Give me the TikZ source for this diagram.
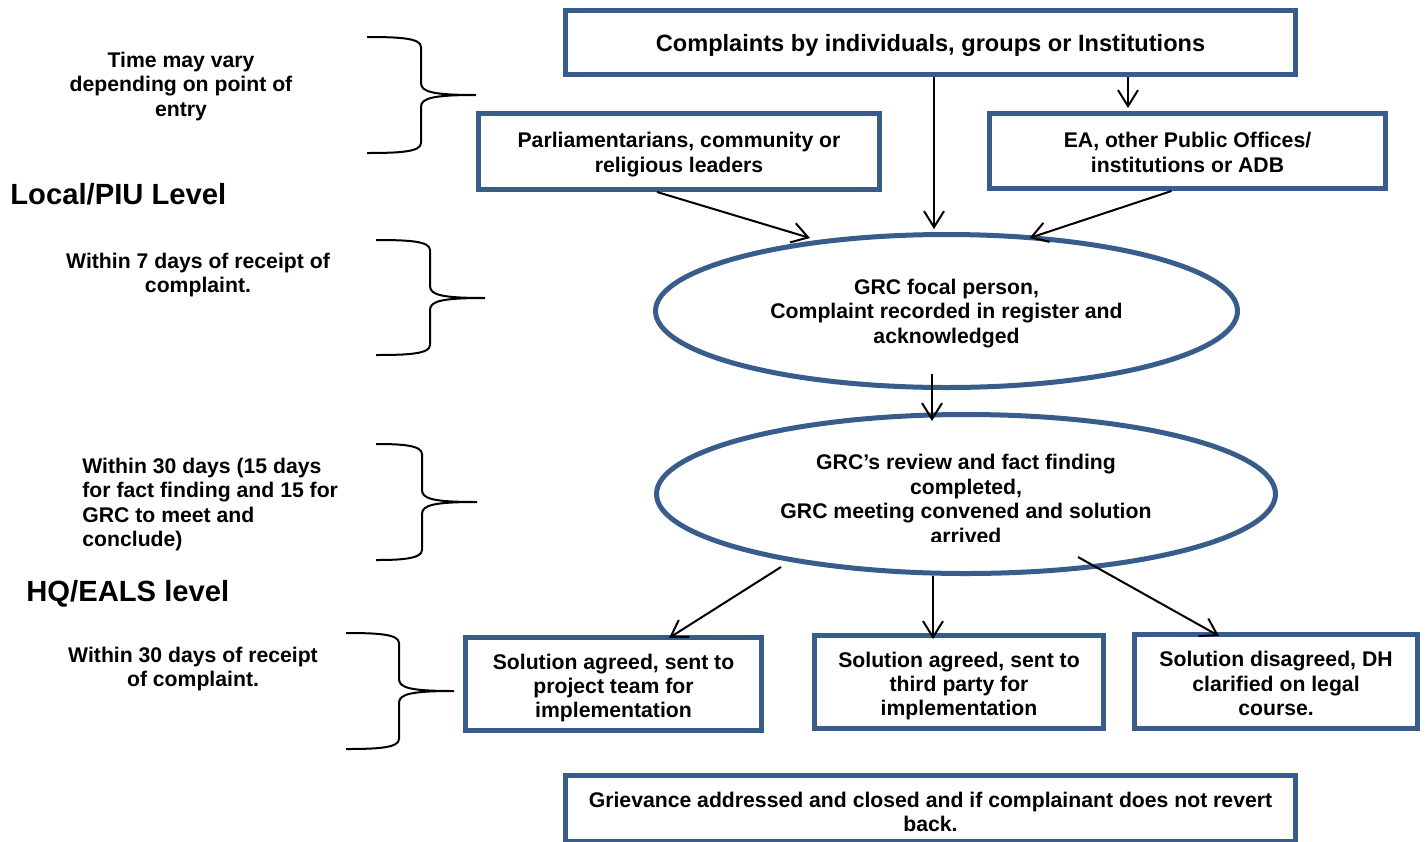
\documentclass[tikz,border=0pt]{standalone}
\usepackage{fontspec}
\setmainfont{Liberation Sans}
\usetikzlibrary{arrows.meta,shapes.geometric,calc}
\definecolor{boxblue}{HTML}{385D8A}
\newcommand\rbrc[6]{% x0 xv xt yt ym yb
 \draw[brc] (#1,#4) .. controls (#2-22,#4) and (#2,#4+1) .. (#2,#4+10)
  -- (#2,#5-12) .. controls (#2,#5-3) and (#2+12,#5) .. (#3,#5)
  .. controls (#2+12,#5) and (#2,#5+3) .. (#2,#5+12)
  -- (#2,#6-10) .. controls (#2,#6-1) and (#2-22,#6) .. (#1,#6);}
\begin{document}
\begin{tikzpicture}[x=0.5pt,y=-0.5pt,
  txt/.style={font=\fontsize{10.6}{12.2}\selectfont\bfseries, align=center, inner sep=0pt},
  box/.style={draw=boxblue, line width=2.5pt, fill=white, inner sep=0pt},
  ell/.style={ellipse, draw=boxblue, line width=2.5pt, fill=white, inner sep=0pt},
  arr/.style={-{Straight Barb[length=8pt,width=10pt]}, line width=1pt, black},
  brc/.style={line width=1pt, black},
  lvl/.style={font=\fontsize{14.6}{16}\selectfont\bfseries, anchor=west, inner sep=0pt}]
\clip (0,0) rectangle (1428,841);
\fill[white] (0,0) rectangle (1428,841);

% left labels
\node[txt] (t1) at (181,86.5) {Time may vary\\depending on point of\\entry};
\node[lvl] (l1) at (10,194) {Local/PIU Level};
\node[txt] (t2) at (198,275) {Within 7 days of receipt of\\complaint.};
\node[txt, align=left, anchor=west] (t3) at (82,504.5) {Within 30 days (15 days\\for fact finding and 15 for\\GRC to meet and\\conclude)};
\node[lvl] (l2) at (26,594) {HQ/EALS level};
\node[txt] (t4) at (193,669) {Within 30 days of receipt\\of complaint.};

% braces
\rbrc{367}{421}{476}{37}{95}{153}
\rbrc{376}{430}{485}{240}{298}{355}
\rbrc{376}{422}{477}{444}{502}{560}
\rbrc{346}{399}{454}{633}{691}{749}

% boxes
\node[box, minimum width=365pt, minimum height=32pt] (top) at (930.5,42.5) {};
\node[txt, font=\fontsize{11.8}{13}\selectfont\bfseries] (topt) at ($(top)+(0,3)$) {Complaints by individuals, groups or Institutions};
\node[box, minimum width=200.5pt, minimum height=38pt] (parl) at (679,151.5) {};
\node[txt] (parlt) at ($(parl)+(0,3)$) {Parliamentarians, community or\\religious leaders};
\node[box, minimum width=198pt, minimum height=37.5pt] (ea) at (1187.5,151) {};
\node[txt] (eat) at ($(ea)+(0,1.5)$) {EA, other Public Offices/\\institutions or ADB};
\node[ell, minimum width=291pt, minimum height=76.5pt] (e1) at (946.5,311) {};
\node[txt] (e1t) at ($(e1)+(0,2.5)$) {GRC focal person,\\Complaint recorded in register and\\acknowledged};
\node[ell, minimum width=309.5pt, minimum height=79.5pt] (e2) at (966,494) {};
\begin{scope}
\clip (650,400) rectangle (1290,541.5);
\node[txt] (e2t) at ($(e2)+(0,5)$) {GRC’s review and fact finding\\completed,\\GRC meeting convened and solution\\arrived};
\end{scope}
\node[box, minimum width=148pt, minimum height=46.5pt] (b1) at (613.5,684) {};
\node[txt] (b1t) at ($(b1)+(0,4)$) {Solution agreed, sent to\\project team for\\implementation};
\node[box, minimum width=144.5pt, minimum height=46.5pt] (b2) at (959,682) {};
\node[txt] (b2t) at ($(b2)+(0,4)$) {Solution agreed, sent to\\third party for\\implementation};
\node[box, minimum width=141.5pt, minimum height=47pt] (b3) at (1276,681.5) {};
\node[txt] (b3t) at ($(b3)+(0,2)$) {Solution disagreed, DH\\clarified on legal\\course.};
\node[box, minimum width=365pt, minimum height=33pt] (fin) at (930.5,808.5) {};
\node[txt] (fint) at ($(fin)+(0,3.5)$) {Grievance addressed and closed and if complainant does not revert\\back.};

% connectors
\coordinate (a1s) at ($(top.south)+(3.5,0)$);
\draw[arr, shorten >=1.5pt] (a1s) -- (a1s |- e1.north);
\coordinate (a2s) at ($(top.south)+(197.5,0)$);
\draw[arr, shorten >=1.5pt] (a2s) -- (a2s |- ea.north);
\draw[arr] ($(parl.south)+(-22,0)$) -- ($(e1.north)+(-136.5,6)$);
\draw[arr] ($(ea.south)+(-16,0)$) -- ($(e1.north)+(83,6)$);
\draw[arr] ($(e1.south)+(-14.5,-16)$) -- ($(e2.north)+(-34,9)$);
\draw[arr] ($(e2.south)+(-185,-9)$) -- ($(b1.north)+(55.5,3)$);
\draw[arr] ($(e2.south)+(-33,0)$) -- ($(b2.north)+(-26,6)$);
\draw[arr] ($(e2.south)+(112,-19)$) -- ($(b3.north)+(-57,4)$);
\end{tikzpicture}
\end{document}
